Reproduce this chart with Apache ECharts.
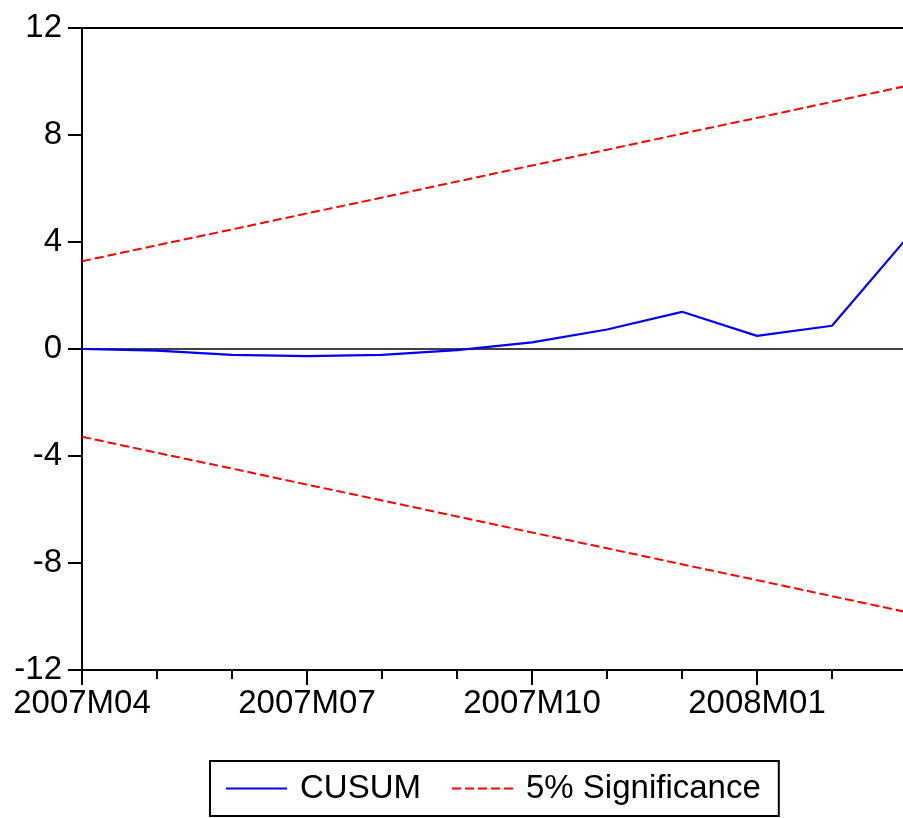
<!DOCTYPE html>
<html>
<head>
<meta charset="utf-8">
<script src="https://cdn.jsdelivr.net/npm/echarts@6/dist/echarts.min.js"></script>
<style>
html,body{margin:0;padding:0;background:#fff;}
#chart{width:903px;height:818px;}
</style>
</head>
<body>
<div id="chart"></div>
<script>
const categories = ['2007M04','2007M05','2007M06','2007M07','2007M08','2007M09','2007M10','2007M11','2007M12','2008M01','2008M02','2008M03'];
const cusum = [0, -0.06, -0.22, -0.27, -0.22, -0.04, 0.25, 0.73, 1.39, 0.49, 0.87, 4.15];
const upper = [3.28, 3.88, 4.47, 5.07, 5.66, 6.26, 6.86, 7.45, 8.05, 8.64, 9.24, 9.84];
const lower = [-3.28, -3.88, -4.47, -5.07, -5.66, -6.26, -6.86, -7.45, -8.05, -8.64, -9.24, -9.84];
const yTicks = [-12, -8, -4, 0, 4, 8, 12];

const FONT = '"Liberation Sans", Arial, sans-serif';
const chart = echarts.init(document.getElementById('chart'), null, {renderer: 'canvas'});
chart.setOption({
  animation: false,
  backgroundColor: '#ffffff',
  grid: {
    left: 82, top: 28, width: 825, height: 642,
    outerBoundsMode: 'none', containLabel: false,
    show: true, borderColor: '#000', borderWidth: 2, backgroundColor: 'transparent'
  },
  legend: {
    left: 210, top: 761,
    data: ['CUSUM', '5% Significance'],
    itemWidth: 61, itemHeight: 14, itemGap: 30,
    padding: [11, 18, 11, 15],
    borderColor: '#000', borderWidth: 2, borderRadius: 0,
    itemStyle: {color: 'transparent', borderWidth: 0, opacity: 0},
    textStyle: {fontFamily: FONT, fontSize: 33, color: '#000', padding: [0, 0, 0, 8]}
  },
  xAxis: [{
    type: 'category', data: categories, boundaryGap: false, position: 'bottom',
    axisLine: {show: true, onZero: false, lineStyle: {color: '#000', width: 2}},
    axisTick: {show: true, interval: 0, length: 9, lineStyle: {color: '#000', width: 2}},
    axisLabel: {show: false},
    splitLine: {show: false}
  }, {
    type: 'category', data: categories, boundaryGap: false, position: 'bottom',
    axisLine: {show: false, onZero: false},
    axisTick: {show: true, interval: 2, length: 15, lineStyle: {color: '#000', width: 2}},
    axisLabel: {show: true, interval: 2, margin: 17, fontFamily: FONT, fontSize: 33, color: '#000'},
    splitLine: {show: false}
  }],
  yAxis: {
    type: 'value', min: yTicks[0], max: yTicks[yTicks.length - 1], interval: 4,
    axisLine: {show: true, lineStyle: {color: '#000', width: 2}},
    axisTick: {show: true, length: 14, lineStyle: {color: '#000', width: 2}},
    axisLabel: {margin: 20, fontFamily: FONT, fontSize: 33, color: '#000', padding: [0, 0, 10, 0]},
    splitLine: {show: false}
  },
  series: [{
    name: 'CUSUM', type: 'line', data: cusum, symbol: 'none', z: 5,
    lineStyle: {color: '#0000ff', width: 2.2},
    itemStyle: {color: '#0000ff'},
    markLine: {
      silent: true, symbol: 'none', label: {show: false},
      lineStyle: {color: '#000', width: 1.5, type: 'solid'},
      data: [{yAxis: 0}], z: 1
    }
  }, {
    name: '5% Significance', type: 'line', data: upper, symbol: 'none',
    lineStyle: {color: '#ff0000', width: 2, type: [9, 4]},
    itemStyle: {color: '#ff0000'}
  }, {
    name: '5% Significance', type: 'line', data: lower, symbol: 'none',
    lineStyle: {color: '#ff0000', width: 2, type: [9, 4]},
    itemStyle: {color: '#ff0000'}
  }]
});
</script>
</body>
</html>
